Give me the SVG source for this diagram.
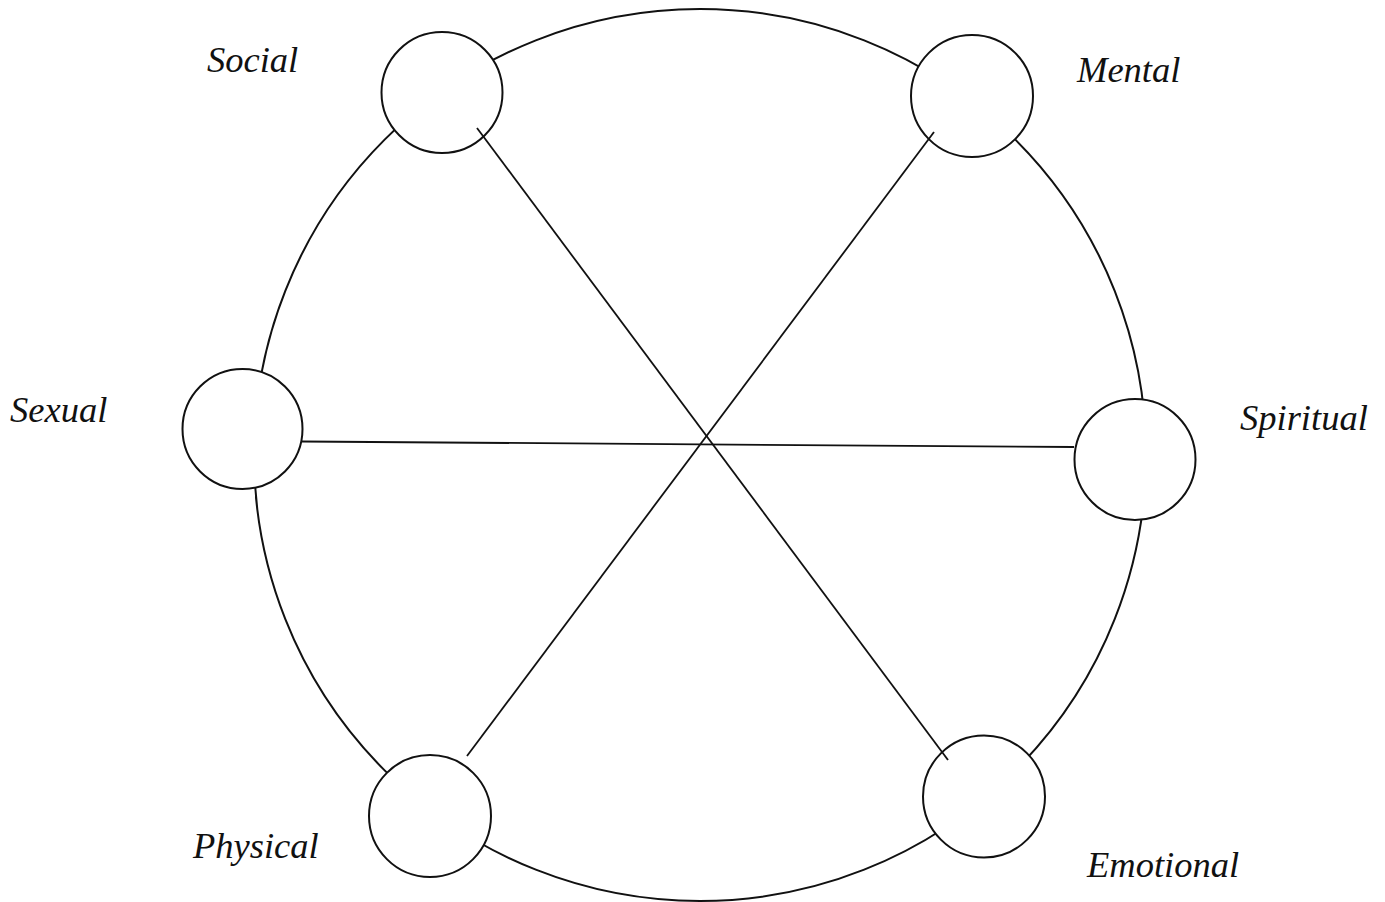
<svg xmlns="http://www.w3.org/2000/svg" width="1385" height="902" viewBox="0 0 1385 902">
<style>
.ring{fill:none;stroke:#111;stroke-width:2}
.node{fill:#fff;stroke:#111;stroke-width:2}
.link{stroke:#111;stroke-width:1.8;fill:none}
.lbl{font-family:"Liberation Serif","Times New Roman",serif;font-style:italic;font-size:36.5px;fill:#111}
</style>
<rect width="1385" height="902" fill="#fff"/>
<circle id="outer-ring" class="ring" cx="700" cy="455" r="446"/>
<g id="node-social"><circle class="node" cx="442" cy="92.5" r="60.5"/><text class="lbl" x="207" y="72">Social</text></g>
<g id="node-mental"><circle class="node" cx="972" cy="96" r="61"/><text class="lbl" x="1077" y="81.5">Mental</text></g>
<g id="node-sexual"><circle class="node" cx="242.5" cy="429" r="60"/><text class="lbl" x="10" y="421.5">Sexual</text></g>
<g id="node-spiritual"><circle class="node" cx="1135" cy="459.5" r="60.5"/><text class="lbl" x="1240" y="430">Spiritual</text></g>
<g id="node-physical"><circle class="node" cx="430" cy="816" r="61"/><text class="lbl" x="193" y="858">Physical</text></g>
<g id="node-emotional"><circle class="node" cx="984" cy="796.5" r="61"/><text class="lbl" x="1087" y="877">Emotional</text></g>
<g id="connectors">
<line class="link" x1="477" y1="128" x2="948" y2="760"/>
<line class="link" x1="934" y1="132" x2="467" y2="756"/>
<line class="link" x1="302" y1="441.5" x2="1074" y2="447"/>
</g>
</svg>
